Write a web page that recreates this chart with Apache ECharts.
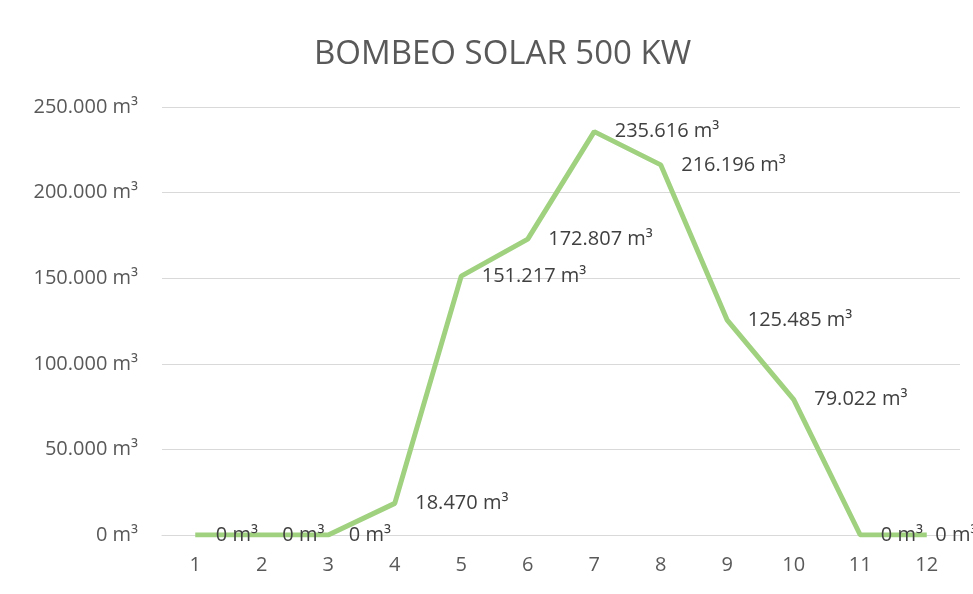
<!DOCTYPE html>
<html><head><meta charset="utf-8">
<script src="https://cdn.jsdelivr.net/npm/echarts@6/dist/echarts.min.js"></script>
<style>html,body{margin:0;padding:0;background:#fff}#c{width:973px;height:594px}</style>
</head><body><div id="c"></div>
<script>
const titleText = 'BOMBEO SOLAR 500 KW';
const categories = ['1','2','3','4','5','6','7','8','9','10','11','12'];
const volumes = [0, 0, 0, 18470, 151217, 172807, 235616, 216196, 125485, 79022, 0, 0];
const yTicks = [0, 50000, 100000, 150000, 200000, 250000];

function fmt(v){
  return String(Math.round(v)).replace(/\B(?=(\d{3})+(?!\d))/g, '.') + ' m³';
}
const font = '"Open Sans", "Noto Sans", sans-serif';
const seriesData = volumes.map((v, i) => i === volumes.length - 1 ? {value: v, label: {distance: 8}} : v);
const chart = echarts.init(document.getElementById('c'), null, {renderer:'canvas'});
chart.setOption({
  animation:false,
  backgroundColor:'#fff',
  title:{text:titleText, left:309, top:32, textStyle:{fontFamily:font, fontSize:33, lineHeight:36, fontWeight:'normal', color:'#595959'}},
  grid:{left:162, right:13, top:107, bottom:59},
  xAxis:{type:'category', data:categories, boundaryGap:true,
    axisLine:{lineStyle:{color:'#d9d9d9', width:1}}, axisTick:{show:false},
    axisLabel:{fontFamily:font, fontSize:20, color:'#595959', margin:20}},
  yAxis:{type:'value', min:yTicks[0], max:yTicks[yTicks.length-1], interval:yTicks[1]-yTicks[0],
    axisLine:{show:false}, axisTick:{show:false},
    splitLine:{lineStyle:{color:'#d9d9d9', width:1}},
    axisLabel:{fontFamily:font, fontSize:20, color:'#595959', margin:24, formatter:fmt}},
  series:[{type:'line', data:seriesData, symbol:'circle', symbolSize:1, showSymbol:true,
    lineStyle:{color:'#9fd17f', width:5}, itemStyle:{color:'rgba(0,0,0,0)'},
    label:{show:true, position:'right', distance:20, fontFamily:font, fontSize:20, color:'#404040',
      formatter:p=>fmt(p.value)}}]
});
</script></body></html>
